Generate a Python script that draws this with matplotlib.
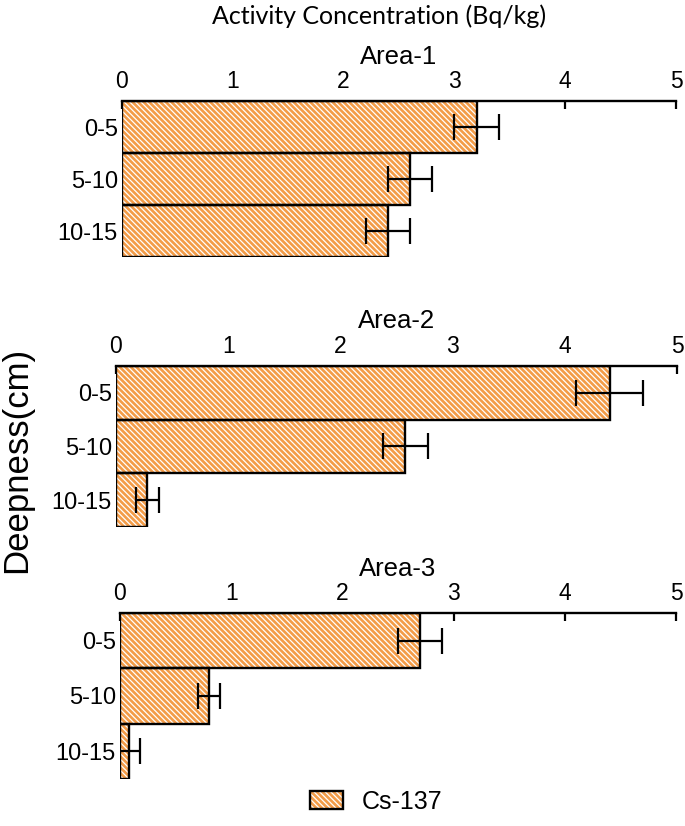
import numpy as np
import matplotlib
matplotlib.use('Agg')
import matplotlib.pyplot as plt
from matplotlib.patches import Patch

depths = ['0-5', '5-10', '10-15']
areas = ['Area-1', 'Area-2', 'Area-3']
area1_vals = [3.2, 2.6, 2.4]
area1_err = [0.2, 0.2, 0.2]
area2_vals = [4.4, 2.58, 0.28]
area2_err = [0.3, 0.2, 0.1]
area3_vals = [2.7, 0.8, 0.08]
area3_err = [0.2, 0.1, 0.1]
x_ticks = [0, 1, 2, 3, 4, 5]

orange = '#F39C48'
plt.rcParams['font.family'] = ['Liberation Sans', 'DejaVu Sans']
plt.rcParams['hatch.linewidth'] = 0.9
plt.rcParams['hatch.color'] = 'white'

fig = plt.figure(figsize=(6.85, 8.26), dpi=100)
W, H = 685, 826

# axes boxes in pixels: left, top, right, bottom
boxes = [(122, 101, 676, 257), (116, 366, 677, 527), (120, 613, 676, 779)]
vals = [area1_vals, area2_vals, area3_vals]
errs = [area1_err, area2_err, area3_err]
hatch = '\\\\\\\\\\\\'

for (l, t, r, b), name, v, e in zip(boxes, areas, vals, errs):
    ax = fig.add_axes([l / W, (H - b) / H, (r - l) / W, (b - t) / H])
    y = np.arange(len(depths))
    # hatched fill (hatch follows edge colour), then black outline on top
    ax.barh(y, v, height=1.0, color=orange, edgecolor='white', linewidth=0,
            hatch=hatch, zorder=2)
    ax.barh(y, v, height=1.0, color='none', edgecolor='black', linewidth=1.7, zorder=3)
    ax.errorbar(v, y, xerr=e, fmt='none', ecolor='black', elinewidth=1.6,
                capsize=9.5, capthick=1.6, zorder=4)
    ax.set_xlim(0, 5)
    ax.set_ylim(2.5, -0.5)
    ax.set_xticks(x_ticks)
    ax.xaxis.tick_top()
    ax.tick_params(axis='x', direction='in', length=6, width=1.6, labelsize=16.5, pad=6)
    ax.set_yticks(y)
    ax.set_yticklabels(depths)
    ax.tick_params(axis='y', length=0, labelsize=17, pad=3)
    for s in ['left', 'right', 'bottom']:
        ax.spines[s].set_visible(False)
    ax.spines['top'].set_linewidth(1.7)
    ax.set_title(name, fontsize=18.5, pad=27)

fig.text(379 / W, 1 - 16 / H, 'Activity Concentration (Bq/kg)', ha='center', va='center',
         fontsize=18, family=['Lato', 'DejaVu Sans'])
fig.text(17 / W, 1 - 460 / H, 'Deepness(cm)', rotation=90, ha='center', va='center',
         fontsize=25)

fill_h = Patch(facecolor=orange, edgecolor='white', linewidth=0, hatch=hatch)
edge_h = Patch(facecolor='none', edgecolor='black', linewidth=1.7)
fig.legend([(fill_h, edge_h)], ['Cs-137'], loc='center', bbox_to_anchor=(376 / W, 1 - 802 / H),
           frameon=False, fontsize=18, handlelength=1.3, handleheight=0.75, handletextpad=0.75)

fig.savefig('out.png', dpi=100)
